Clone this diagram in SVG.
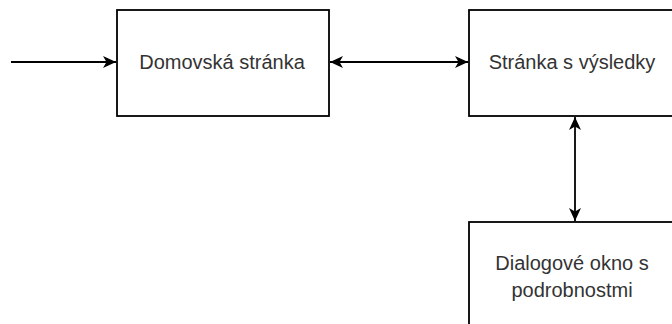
<svg xmlns="http://www.w3.org/2000/svg" width="672" height="324" viewBox="0 0 672 324">
  <style>
    .box { fill: #ffffff; stroke: #000000; stroke-width: 1.8; }
    .lbl { font-family: "Liberation Sans", Arial, sans-serif; font-size: 20px; fill: #333333; text-anchor: middle; }
    .edge { fill: none; stroke: #000000; stroke-width: 1.8; }
  </style>
  <defs>
    <marker id="arrEnd" markerUnits="userSpaceOnUse" markerWidth="14" markerHeight="12" refX="13" refY="6" orient="auto">
      <path d="M0,0 L13,6 L0,12 L3.5,6 Z" fill="#000000"/>
    </marker>
    <marker id="arrStart" markerUnits="userSpaceOnUse" markerWidth="14" markerHeight="12" refX="13" refY="6" orient="auto-start-reverse">
      <path d="M0,0 L13,6 L0,12 L3.5,6 Z" fill="#000000"/>
    </marker>
  </defs>
  <rect width="672" height="324" fill="#ffffff"/>
  <g id="connectors">
    <path class="edge" d="M11,62 L116,62" marker-end="url(#arrEnd)"/>
    <path class="edge" d="M330,62 L468,62" marker-start="url(#arrStart)" marker-end="url(#arrEnd)"/>
    <path class="edge" d="M575,117 L575,221" marker-start="url(#arrStart)" marker-end="url(#arrEnd)"/>
  </g>
  <g id="home">
    <rect class="box" x="117" y="10" width="212" height="106"/>
    <text class="lbl" x="222" y="69">Domovská stránka</text>
  </g>
  <g id="results">
    <rect class="box" x="469" y="10" width="212" height="106"/>
    <text class="lbl" x="572" y="69">Stránka s výsledky</text>
  </g>
  <g id="dialog">
    <rect class="box" x="469" y="222" width="212" height="106"/>
    <text class="lbl" x="572" y="270">Dialogové okno s</text>
    <text class="lbl" x="572" y="297">podrobnostmi</text>
  </g>
</svg>
